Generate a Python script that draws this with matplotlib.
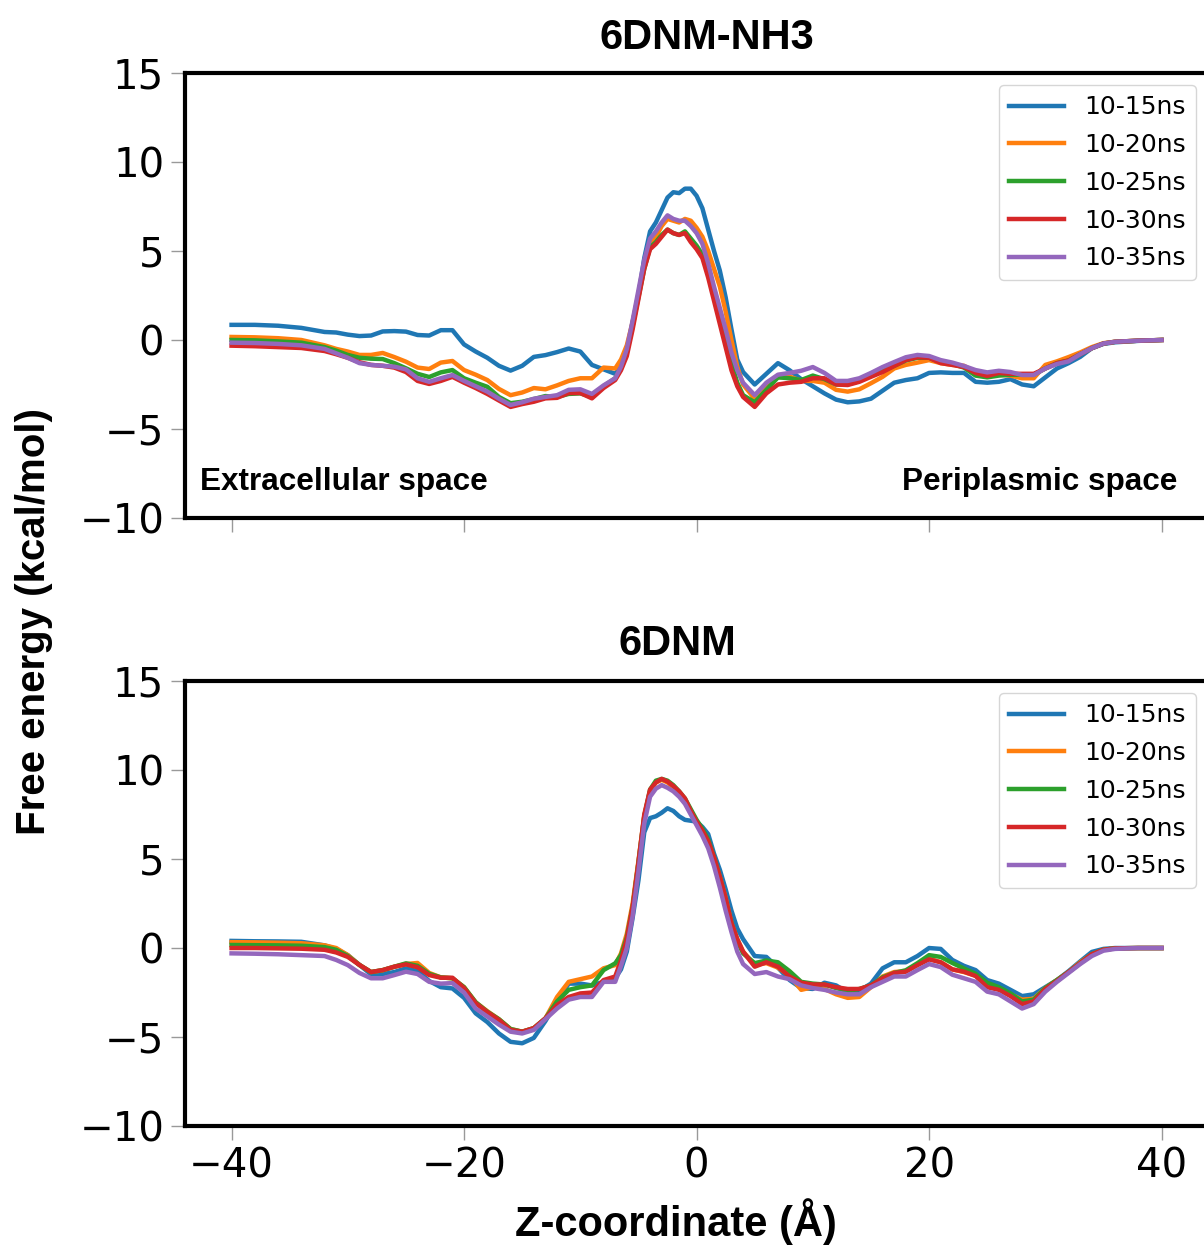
import matplotlib
matplotlib.use("Agg")
import matplotlib.pyplot as plt

# z-coordinate (Angstrom), shared by all curves
z = [-40, -38, -36, -34, -32, -31, -30, -29, -28, -27, -26, -25, -24, -23, -22, -21,
     -20, -19, -18, -17, -16, -15, -14, -13, -12, -11, -10, -9, -8, -7,
     -6.5, -6, -5.5, -5, -4.5, -4, -3.5, -3, -2.5, -2, -1.5, -1, -0.5, 0, 0.5, 1,
     1.5, 2, 2.5, 3, 3.5, 4, 5, 6, 7, 8, 9, 10, 11, 12, 13, 14, 15, 16, 17, 18,
     19, 20, 21, 22, 23, 24, 25, 26, 27, 28, 29, 30, 31, 32, 33, 34, 35, 36, 38, 40]

labels = ["10-15ns", "10-20ns", "10-25ns", "10-30ns", "10-35ns"]
colors = ["#1f77b4", "#ff7f0e", "#2ca02c", "#d62728", "#9467bd"]

# 6DNM-NH3
nh3_15 = [0.85, 0.85, 0.8, 0.68, 0.45, 0.42, 0.3, 0.22, 0.25, 0.48, 0.5, 0.47, 0.28, 0.25, 0.55, 0.55,
          -0.25, -0.65, -1.0, -1.45, -1.72, -1.45, -0.95, -0.85, -0.68, -0.48, -0.65, -1.4, -1.65, -1.9,
          -1.5, -0.6, 1.0, 2.5, 4.6, 6.1, 6.6, 7.3, 8.0, 8.3, 8.25, 8.5, 8.5, 8.1, 7.4, 6.2,
          5.0, 3.9, 2.4, 0.6, -1.1, -1.8, -2.5, -1.9, -1.3, -1.7, -2.2, -2.6, -3.0, -3.35, -3.5, -3.45, -3.3, -2.85, -2.4, -2.25,
          -2.15, -1.85, -1.82, -1.85, -1.85, -2.35, -2.4, -2.35, -2.2, -2.5, -2.6, -2.1, -1.6, -1.3, -0.95, -0.46, -0.22, -0.13, -0.05, 0.0]
nh3_20 = [0.17, 0.15, 0.1, 0.0, -0.3, -0.5, -0.65, -0.84, -0.84, -0.73, -0.96, -1.22, -1.55, -1.63, -1.27, -1.18,
          -1.69, -1.95, -2.25, -2.75, -3.1, -2.95, -2.7, -2.77, -2.55, -2.3, -2.15, -2.15, -1.55, -1.6,
          -1.1, -0.3, 1.0, 2.6, 4.3, 5.3, 5.8, 6.4, 6.8, 6.7, 6.6, 6.8, 6.7, 6.3, 5.8, 5.0,
          4.0, 3.0, 1.6, 0.0, -1.5, -2.5, -3.3, -2.6, -2.1, -2.05, -2.3, -2.3, -2.4, -2.8, -2.9, -2.77, -2.43, -2.07, -1.6, -1.4,
          -1.27, -1.13, -1.3, -1.4, -1.45, -1.8, -2.0, -1.95, -2.0, -2.15, -2.15, -1.4, -1.2, -0.96, -0.7, -0.4, -0.18, -0.1, -0.04, 0.0]
nh3_25 = [0.0, -0.02, -0.08, -0.15, -0.4, -0.6, -0.84, -1.0, -1.05, -1.07, -1.3, -1.59, -1.9, -2.08, -1.82, -1.69,
          -2.15, -2.4, -2.63, -3.2, -3.55, -3.47, -3.32, -3.15, -3.2, -3.03, -3.0, -3.2, -2.6, -2.15,
          -1.6, -0.7, 0.8, 2.4, 4.0, 5.2, 5.5, 5.9, 6.2, 6.0, 5.9, 6.1, 5.7, 5.3, 4.8, 3.8,
          2.6, 1.3, 0.0, -1.3, -2.4, -3.1, -3.5, -2.8, -2.1, -2.15, -2.25, -2.0, -2.2, -2.5, -2.5, -2.3, -2.0, -1.75, -1.45, -1.15,
          -1.0, -1.0, -1.25, -1.35, -1.55, -2.0, -2.1, -2.0, -1.95, -1.95, -1.95, -1.6, -1.3, -1.15, -0.8, -0.46, -0.2, -0.1, -0.04, 0.0]
nh3_30 = [-0.32, -0.35, -0.4, -0.45, -0.62, -0.8, -1.0, -1.25, -1.4, -1.45, -1.55, -1.8, -2.3, -2.47, -2.3, -2.07,
          -2.4, -2.7, -3.03, -3.4, -3.76, -3.6, -3.47, -3.28, -3.25, -2.98, -2.98, -3.28, -2.7, -2.25,
          -1.7, -0.9, 0.6, 2.3, 4.0, 5.1, 5.4, 5.8, 6.2, 6.0, 5.9, 6.0, 5.5, 5.1, 4.6, 3.5,
          2.2, 0.9, -0.4, -1.7, -2.6, -3.2, -3.76, -3.0, -2.5, -2.4, -2.35, -2.15, -2.15, -2.5, -2.53, -2.35, -2.07, -1.8, -1.46, -1.13,
          -0.97, -1.0, -1.3, -1.4, -1.52, -1.85, -2.02, -1.85, -1.9, -1.9, -1.9, -1.6, -1.3, -1.15, -0.8, -0.46, -0.2, -0.1, -0.04, 0.0]
nh3_35 = [-0.15, -0.17, -0.22, -0.3, -0.5, -0.75, -1.0, -1.3, -1.4, -1.45, -1.5, -1.65, -2.15, -2.35, -2.15, -1.97,
          -2.3, -2.6, -2.9, -3.3, -3.65, -3.5, -3.3, -3.2, -3.1, -2.8, -2.77, -3.03, -2.55, -2.15,
          -1.5, -0.5, 1.1, 2.8, 4.5, 5.7, 6.1, 6.6, 7.0, 6.8, 6.7, 6.7, 6.4, 6.0, 5.4, 4.3,
          3.0, 1.8, 0.6, -0.7, -1.7, -2.4, -3.1, -2.4, -1.95, -1.85, -1.73, -1.52, -1.85, -2.3, -2.3, -2.15, -1.85, -1.52, -1.24, -0.97,
          -0.84, -0.9, -1.13, -1.27, -1.46, -1.69, -1.82, -1.73, -1.8, -1.97, -1.97, -1.6, -1.35, -1.2, -0.8, -0.46, -0.2, -0.1, -0.04, 0.0]

# 6DNM
apo_15 = [0.4, 0.38, 0.37, 0.35, 0.15, -0.05, -0.4, -0.95, -1.48, -1.46, -1.35, -1.14, -1.3, -1.85, -2.2, -2.27,
          -2.8, -3.67, -4.16, -4.8, -5.27, -5.35, -5.05, -4.1, -3.0, -2.0, -2.0, -2.1, -1.9, -1.7,
          -1.2, -0.2, 1.7, 3.8, 6.5, 7.3, 7.4, 7.6, 7.85, 7.7, 7.4, 7.2, 7.15, 7.1, 6.8, 6.4,
          5.3, 4.4, 3.3, 2.1, 1.1, 0.5, -0.45, -0.5, -1.1, -1.8, -2.25, -2.3, -1.95, -2.1, -2.5, -2.4, -2.0, -1.14, -0.8, -0.8,
          -0.45, 0.0, -0.05, -0.67, -1.0, -1.24, -1.8, -2.0, -2.35, -2.7, -2.6, -2.2, -1.8, -1.3, -0.75, -0.22, -0.05, 0.0, 0.0, 0.0]
apo_20 = [0.33, 0.32, 0.3, 0.27, 0.15, 0.0, -0.4, -0.95, -1.35, -1.25, -1.05, -0.9, -0.84, -1.4, -1.65, -1.7,
          -2.2, -3.05, -3.55, -4.0, -4.55, -4.7, -4.5, -3.95, -2.75, -1.9, -1.75, -1.6, -1.14, -0.96,
          -0.3, 0.8, 2.5, 4.9, 7.4, 8.8, 9.3, 9.45, 9.3, 9.0, 8.6, 8.2, 7.6, 7.0, 6.5, 5.9,
          5.0, 4.0, 2.8, 1.4, 0.5, -0.2, -0.95, -0.85, -1.1, -1.55, -2.35, -2.2, -2.3, -2.6, -2.8, -2.75, -2.2, -1.6, -1.35, -1.3,
          -0.95, -0.6, -0.8, -1.2, -1.35, -1.55, -2.1, -2.3, -2.6, -2.9, -2.85, -2.25, -1.8, -1.35, -0.8, -0.35, -0.1, -0.02, 0.0, 0.0]
apo_25 = [0.17, 0.16, 0.15, 0.13, 0.05, -0.1, -0.45, -0.95, -1.35, -1.24, -1.05, -0.86, -1.0, -1.45, -1.65, -1.7,
          -2.2, -3.05, -3.58, -4.0, -4.55, -4.7, -4.5, -3.95, -3.0, -2.35, -2.2, -2.1, -1.24, -0.86,
          -0.4, 0.6, 2.3, 4.8, 7.4, 8.9, 9.4, 9.5, 9.4, 9.15, 8.8, 8.4, 7.8, 7.2, 6.7, 6.1,
          5.1, 4.0, 2.7, 1.4, 0.4, -0.3, -0.85, -0.7, -0.8, -1.3, -1.9, -2.0, -2.05, -2.25, -2.4, -2.3, -2.1, -1.65, -1.4, -1.25,
          -0.85, -0.4, -0.5, -0.84, -1.15, -1.45, -1.95, -2.2, -2.55, -3.0, -2.9, -2.25, -1.8, -1.35, -0.85, -0.35, -0.1, -0.02, 0.0, 0.0]
apo_30 = [0.0, 0.0, -0.02, -0.04, -0.1, -0.25, -0.5, -0.95, -1.35, -1.24, -1.05, -0.92, -1.08, -1.52, -1.67, -1.67,
          -2.25, -3.1, -3.6, -4.04, -4.6, -4.7, -4.5, -3.95, -3.2, -2.75, -2.55, -2.5, -1.8, -1.6,
          -0.7, 0.5, 2.3, 4.8, 7.5, 8.9, 9.3, 9.5, 9.35, 9.1, 8.8, 8.4, 7.7, 7.1, 6.6, 6.0,
          5.1, 4.0, 2.8, 1.4, 0.5, -0.2, -1.05, -0.8, -1.05, -1.6, -1.95, -2.05, -2.05, -2.2, -2.3, -2.3, -2.1, -1.7, -1.4, -1.33,
          -0.96, -0.64, -0.8, -1.2, -1.33, -1.57, -2.2, -2.35, -2.7, -3.15, -3.0, -2.3, -1.85, -1.35, -0.85, -0.35, -0.1, -0.02, 0.0, 0.0]
apo_35 = [-0.3, -0.32, -0.35, -0.4, -0.45, -0.67, -0.96, -1.4, -1.7, -1.7, -1.52, -1.33, -1.46, -1.9, -2.0, -1.97,
          -2.5, -3.4, -3.85, -4.3, -4.7, -4.8, -4.6, -4.0, -3.4, -2.9, -2.75, -2.75, -1.9, -1.9,
          -1.0, 0.0, 1.8, 4.3, 7.0, 8.5, 8.95, 9.15, 9.0, 8.8, 8.5, 8.1, 7.5, 6.9, 6.3, 5.6,
          4.6, 3.4, 2.1, 0.9, -0.2, -0.9, -1.46, -1.35, -1.6, -1.75, -2.1, -2.25, -2.35, -2.5, -2.6, -2.6, -2.2, -1.9, -1.6, -1.6,
          -1.24, -0.9, -1.07, -1.5, -1.7, -1.9, -2.45, -2.6, -3.0, -3.4, -3.15, -2.45, -1.9, -1.4, -0.9, -0.45, -0.15, -0.05, 0.0, 0.0]

nh3_curves = [nh3_15, nh3_20, nh3_25, nh3_30, nh3_35]
apo_curves = [apo_15, apo_20, apo_25, apo_30, apo_35]

bold = dict(family="Liberation Sans", fontweight="bold")

fig = plt.figure(figsize=(12.04, 12.47), dpi=100)
ax1 = fig.add_axes([0.1537, 0.5846, 0.8497, 0.3569])
ax2 = fig.add_axes([0.1537, 0.0970, 0.8497, 0.3569], sharex=ax1)

for ax, curves in [(ax1, nh3_curves), (ax2, apo_curves)]:
    for vals, lab, c in zip(curves, labels, colors):
        ax.plot(z, vals, color=c, lw=3.2, label=lab)
    ax.set_xlim(-44, 44)
    ax.set_ylim(-10, 15)
    ax.set_xticks([-40, -20, 0, 20, 40])
    ax.set_yticks([-10, -5, 0, 5, 10, 15])
    for s in ax.spines.values():
        s.set_linewidth(3)
        s.set_color("black")
    ax.tick_params(direction="out", length=10, width=1, color="#999999", labelsize=29, pad=5)
    ax.legend(loc="upper right", fontsize=18, labelspacing=0.55, handlelength=2.2)

ax1.tick_params(labelbottom=False)

ax1.set_title("6DNM-NH3", fontsize=30, pad=17, x=0.51, **bold)
ax2.set_title("6DNM", fontsize=30, pad=19, x=0.481, **bold)

ax1.text(0.015, 0.063, "Extracellular space", transform=ax1.transAxes,
         fontsize=22.7, ha="left", va="baseline", **bold)
ax1.text(0.970, 0.063, "Periplasmic space", transform=ax1.transAxes,
         fontsize=22.7, ha="right", va="baseline", **bold)

fig.text(0.028, 0.502, "Free energy (kcal/mol)", rotation=90, fontsize=29,
         ha="center", va="center", **bold)
fig.text(0.561, 0.020, "Z-coordinate (Å)", fontsize=30, ha="center", va="center", **bold)

fig.savefig("out.png", dpi=100)
